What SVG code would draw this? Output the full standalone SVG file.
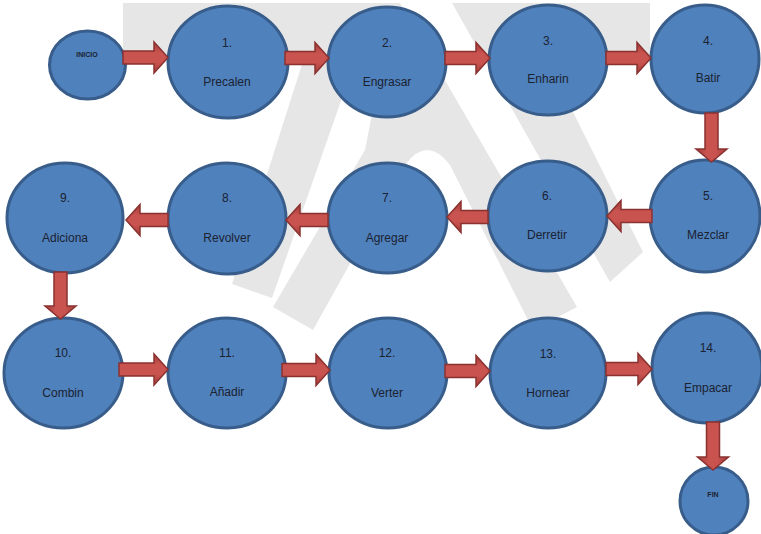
<svg xmlns="http://www.w3.org/2000/svg" width="761" height="534" viewBox="0 0 761 534">
<defs>
<style>
.n{fill:#4f81bd;stroke:#385d8a;stroke-width:3}
.t{font-family:"Liberation Sans",Arial,sans-serif;font-size:12px;fill:#1b2230;text-anchor:middle}
.s{font-family:"Liberation Sans",Arial,sans-serif;font-size:7px;font-weight:bold;fill:#1b2230;text-anchor:middle}
.wm{fill:#e6e6e6}
.ah{fill:url(#gh);stroke:#8a3230;stroke-width:1.5;stroke-linejoin:miter}
.av{fill:url(#gv);stroke:#8a3230;stroke-width:1.5;stroke-linejoin:miter}
</style>
<linearGradient id="gh" x1="0" y1="0" x2="0" y2="1">
<stop offset="0" stop-color="#a13d3a"/><stop offset="0.35" stop-color="#c9534f"/><stop offset="0.65" stop-color="#c9534f"/><stop offset="1" stop-color="#a13d3a"/>
</linearGradient>
<linearGradient id="gv" x1="0" y1="0" x2="1" y2="0">
<stop offset="0" stop-color="#a13d3a"/><stop offset="0.35" stop-color="#c9534f"/><stop offset="0.65" stop-color="#c9534f"/><stop offset="1" stop-color="#a13d3a"/>
</linearGradient>
</defs>
<rect width="761" height="534" fill="#ffffff"/>
<g id="watermark">
<path class="wm" d="M123,3 H400 L577,307 L533,330 L450,165 Q427,135 405,165 L313,330 L273,307 L365,150 L383,58 H356 L272,298 L232,284 L304,58 H123 Z"/>
<path class="wm" d="M452,3 H650 V58 H546 L643,252 L610,282 Z"/>
</g>
<g id="nodes">
<g id="inicio"><ellipse class="n" cx="87.5" cy="65" rx="38" ry="34"/><text class="s" x="87" y="57">INICIO</text></g>
<g id="n1"><ellipse class="n" cx="228" cy="62" rx="60" ry="56"/><text class="t" x="227" y="47">1.</text><text class="t" x="227" y="86">Precalen</text></g>
<g id="n2"><ellipse class="n" cx="387" cy="62" rx="59" ry="55"/><text class="t" x="387" y="47">2.</text><text class="t" x="387" y="86">Engrasar</text></g>
<g id="n3"><ellipse class="n" cx="548" cy="60" rx="59" ry="55"/><text class="t" x="548" y="45">3.</text><text class="t" x="548" y="83">Enharin</text></g>
<g id="n4"><ellipse class="n" cx="705" cy="59" rx="54" ry="54"/><text class="t" x="708" y="45">4.</text><text class="t" x="708" y="82">Batir</text></g>
<g id="n5"><ellipse class="n" cx="705" cy="216" rx="55" ry="56"/><text class="t" x="708" y="200">5.</text><text class="t" x="708" y="239">Mezclar</text></g>
<g id="n6"><ellipse class="n" cx="547.5" cy="216" rx="59.5" ry="55"/><text class="t" x="547" y="200">6.</text><text class="t" x="547" y="239">Derretir</text></g>
<g id="n7"><ellipse class="n" cx="387.5" cy="218" rx="59.5" ry="55"/><text class="t" x="387" y="202">7.</text><text class="t" x="387" y="242">Agregar</text></g>
<g id="n8"><ellipse class="n" cx="227" cy="218.5" rx="59" ry="55.5"/><text class="t" x="227" y="202">8.</text><text class="t" x="227" y="242">Revolver</text></g>
<g id="n9"><ellipse class="n" cx="65" cy="218" rx="58" ry="55"/><text class="t" x="65" y="202">9.</text><text class="t" x="65" y="242">Adiciona</text></g>
<g id="n10"><ellipse class="n" cx="63.5" cy="373" rx="59.5" ry="55"/><text class="t" x="63" y="357">10.</text><text class="t" x="63" y="397">Combin</text></g>
<g id="n11"><ellipse class="n" cx="227" cy="373" rx="59" ry="55"/><text class="t" x="227" y="357">11.</text><text class="t" x="227" y="396">Añadir</text></g>
<g id="n12"><ellipse class="n" cx="388" cy="373" rx="59" ry="55"/><text class="t" x="387" y="357">12.</text><text class="t" x="387" y="397">Verter</text></g>
<g id="n13"><ellipse class="n" cx="548" cy="373" rx="58" ry="55"/><text class="t" x="548" y="358">13.</text><text class="t" x="548" y="397">Hornear</text></g>
<g id="n14"><ellipse class="n" cx="707" cy="368" rx="55" ry="55"/><text class="t" x="708" y="352">14.</text><text class="t" x="708" y="392">Empacar</text></g>
<g id="fin"><ellipse class="n" cx="714" cy="501" rx="34" ry="34"/><text class="s" x="713" y="497">FIN</text></g>
</g>
<g id="connectors">
<path class="ah" d="M123,51 H154 V42 L168,57.5 L154,73 V64 H123 Z"/>
<path class="ah" d="M285,51.5 H315 V42.5 L329,58 L315,73.5 V64.5 H285 Z"/>
<path class="ah" d="M445,51.5 H476 V42.5 L490,58 L476,73.5 V64.5 H445 Z"/>
<path class="ah" d="M606,51.5 H637 V42.5 L651,58 L637,73.5 V64.5 H606 Z"/>
<path class="av" d="M705,113 V149 H696 L711.5,162 L727,149 H718 V113 Z"/>
<path class="ah" d="M652,209.5 H621 V200.5 L607,216 L621,231.5 V222.5 H652 Z"/>
<path class="ah" d="M488,210.5 H461 V201.5 L447,217 L461,232.5 V223.5 H488 Z"/>
<path class="ah" d="M328,213.5 H300 V204.5 L286,220 L300,235.5 V226.5 H328 Z"/>
<path class="ah" d="M168,213.5 H140 V204.5 L126,220 L140,235.5 V226.5 H168 Z"/>
<path class="av" d="M54,272 V306 H45 L60.5,319 L76,306 H67 V272 Z"/>
<path class="ah" d="M119,363 H154 V354 L168,369.5 L154,385 V376 H119 Z"/>
<path class="ah" d="M282,363.5 H316 V354.5 L330,370 L316,385.5 V376.5 H282 Z"/>
<path class="ah" d="M445,364.5 H476 V355.5 L490,371 L476,386.5 V377.5 H445 Z"/>
<path class="ah" d="M606,362.5 H638 V353.5 L652,369 L638,384.5 V375.5 H606 Z"/>
<path class="av" d="M706.5,422 V457 H697.5 L713,470 L728.5,457 H719.5 V422 Z"/>
</g>
</svg>
